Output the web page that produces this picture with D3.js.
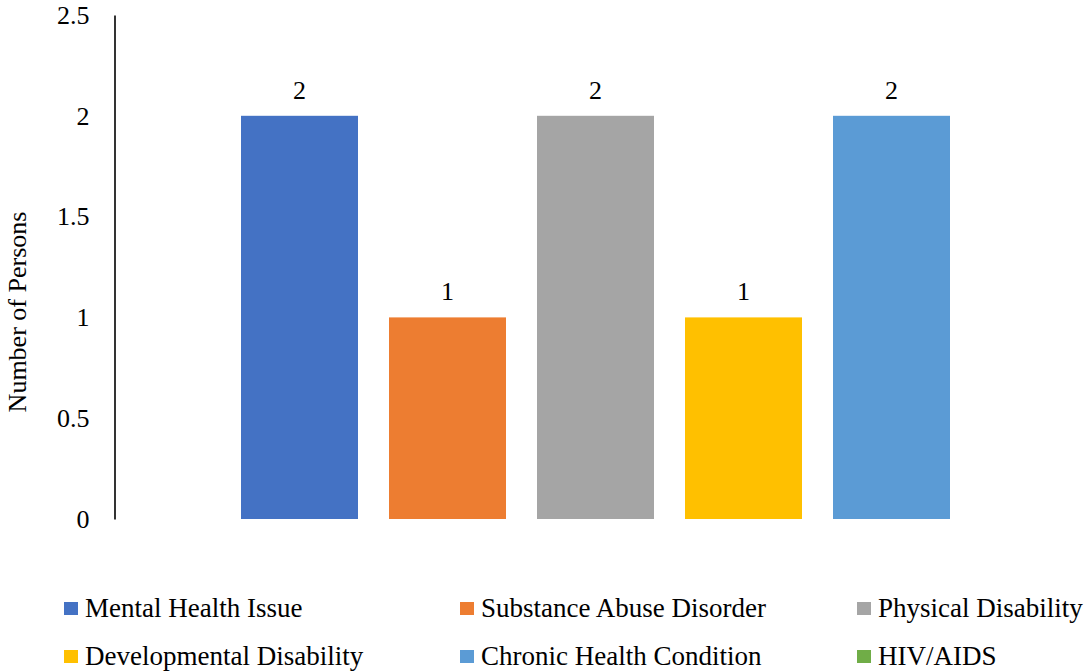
<!DOCTYPE html>
<html>
<head>
<meta charset="utf-8">
<script src="https://cdn.jsdelivr.net/npm/d3@7/dist/d3.min.js"></script>
<style>
  body { margin: 0; background: #fff; }
  svg text { font-family: 'Liberation Serif', 'Tinos', 'DejaVu Serif', serif; fill: #000; }
</style>
</head>
<body>
<div id="chart"></div>
<script>
// chart data
var seriesNames = ['Mental Health Issue', 'Substance Abuse Disorder', 'Physical Disability',
  'Developmental Disability', 'Chronic Health Condition', 'HIV/AIDS'];
var seriesValues = [2, 1, 2, 1, 2, 0];
var seriesColors = ['#4472C4', '#ED7D31', '#A5A5A5', '#FFC000', '#5B9BD5', '#70AD47'];
var yTicks = [0, 0.5, 1, 1.5, 2, 2.5];
var yTitle = 'Number of Persons';

var width = 1092, height = 672;
var fontSize = 26;
var legendFontSize = 27;
var serif = "'Liberation Serif', 'Tinos', 'DejaVu Serif', serif";

var svg = d3.select('#chart').append('svg')
  .attr('width', width)
  .attr('height', height)
  .attr('font-family', serif);

// scales
var y = d3.scaleLinear().domain([0, 2.5]).range([519, 15]);
var x = d3.scaleBand()
  .domain(seriesNames)
  .range([241, 241 + 6 * 148 - 31])
  .paddingInner(31 / 148)
  .paddingOuter(0);

// y axis
var yAxis = svg.append('g')
  .attr('transform', 'translate(114.5,0)')
  .call(d3.axisLeft(y).tickValues(yTicks).tickSize(0).tickSizeOuter(0).tickPadding(25)
    .tickFormat(function (d) { return String(d); }));
yAxis.attr('font-family', serif).attr('font-size', fontSize);
yAxis.select('.domain').attr('stroke', '#000').attr('stroke-width', 1.6);
yAxis.selectAll('text').attr('fill', '#000');

// y title
svg.append('text')
  .attr('transform', 'translate(26,312) rotate(-90)')
  .attr('text-anchor', 'middle')
  .attr('font-size', fontSize)
  .text(yTitle);

// bars
svg.selectAll('rect.bar')
  .data(seriesNames)
  .enter().append('rect')
  .attr('class', 'bar')
  .attr('x', function (d) { return x(d); })
  .attr('width', x.bandwidth())
  .attr('y', function (d, i) { return y(seriesValues[i]); })
  .attr('height', function (d, i) { return y(0) - y(seriesValues[i]); })
  .attr('fill', function (d, i) { return seriesColors[i]; });

// data labels
svg.selectAll('text.lbl')
  .data(seriesNames.filter(function (d, i) { return seriesValues[i] > 0; }))
  .enter().append('text')
  .attr('class', 'lbl')
  .attr('x', function (d) { return x(d) + x.bandwidth() / 2; })
  .attr('y', function (d) { return y(seriesValues[seriesNames.indexOf(d)]) - 17; })
  .attr('text-anchor', 'middle')
  .attr('font-size', fontSize)
  .text(function (d) { return seriesValues[seriesNames.indexOf(d)]; });

// legend, 3 columns x 2 rows
var legendX = d3.scaleOrdinal().domain([0, 1, 2]).range([64, 460, 857]);
var legendY = d3.scaleOrdinal().domain([0, 1]).range([608, 656]);
var leg = svg.selectAll('g.leg')
  .data(seriesNames)
  .enter().append('g')
  .attr('class', 'leg')
  .attr('transform', function (d, i) {
    return 'translate(' + legendX(i % 3) + ',' + legendY(Math.floor(i / 3)) + ')';
  });
leg.append('rect')
  .attr('x', 0).attr('y', -6)
  .attr('width', 14).attr('height', 13)
  .attr('fill', function (d, i) { return seriesColors[i]; });
leg.append('text')
  .attr('x', 21)
  .attr('y', 9)
  .attr('font-size', legendFontSize)
  .text(function (d) { return d; });
</script>
</body>
</html>
